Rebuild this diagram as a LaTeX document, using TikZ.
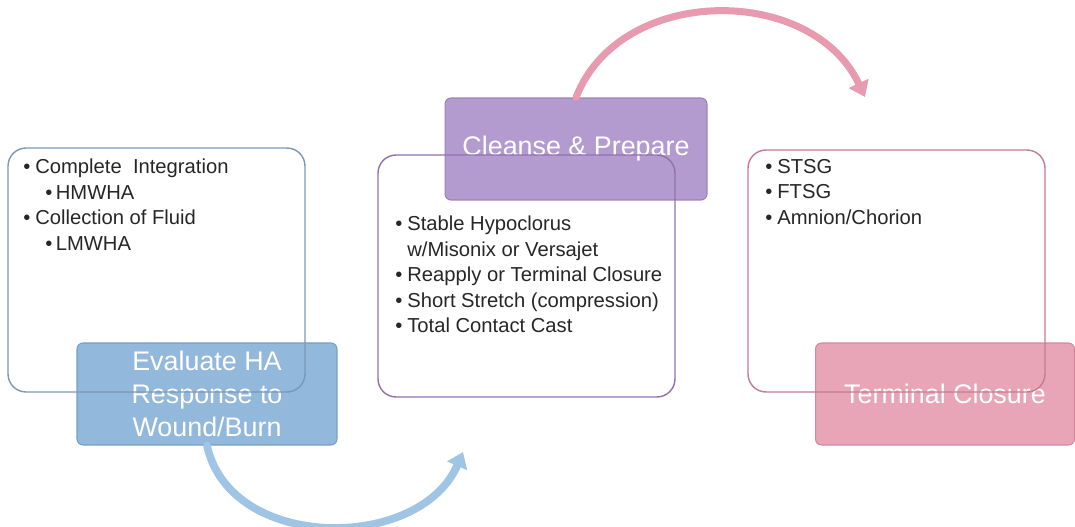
\documentclass[tikz,border=0pt]{standalone}
\usepackage{fontspec}
\setmainfont{Liberation Sans}
\usetikzlibrary{arrows.meta, positioning, calc}
\definecolor{evalfill}{RGB}{146,184,220}
\definecolor{evaledge}{RGB}{118,158,198}
\definecolor{evalline}{RGB}{124,152,182}
\definecolor{cleanfill}{RGB}{180,155,207}
\definecolor{cleanedge}{RGB}{156,128,188}
\definecolor{cleanline}{RGB}{146,112,174}
\definecolor{closefill}{RGB}{232,165,184}
\definecolor{closeedge}{RGB}{212,136,158}
\definecolor{closeline}{RGB}{196,122,146}
\definecolor{bluearrow}{RGB}{160,196,228}
\definecolor{pinkarrow}{RGB}{232,154,176}
\definecolor{bodytext}{RGB}{38,38,38}
\newcommand{\bul}[1]{\makebox[0.24cm][l]{\textbullet}#1}
\newcommand{\subbul}[1]{\hspace*{0.44cm}\makebox[0.21cm][l]{\textbullet}#1}

\begin{document}
\begin{tikzpicture}[
        x=0.02cm, y=-0.02cm,
        panel/.style={draw, line width=0.8pt, rounded corners=0.36cm, minimum width=5.94cm, inner sep=0},
        tag/.style={draw, line width=0.6pt, rounded corners=0.12cm, text=white, align=center, inner sep=0,
            font=\fontsize{15.3pt}{18.7pt}\selectfont},
        txt/.style={align=left, inner sep=0, text=bodytext, anchor=north west,
            font=\fontsize{11.5pt}{14.5pt}\selectfont},
        flow/.style={line cap=round, -{Triangle[width=0.42cm, length=0.3cm]}}
    ]
        \useasboundingbox (0,0) rectangle (1075,527);

        % coloured stage labels
        \node[tag, fill=evalfill, draw=evaledge, minimum width=5.2cm, minimum height=2.04cm] (evallbl) at (207,394)
            {Evaluate HA\\Response to\\Wound/Burn};
        \node[tag, fill=cleanfill, draw=cleanedge, minimum width=5.24cm, minimum height=2.04cm] (cleanselbl) at (576,149)
            {Cleanse \& Prepare};
        \node[tag, fill=closefill, draw=closeedge, minimum width=5.18cm, minimum height=2.04cm] (closelbl) at (945,394)
            {Terminal Closure};

        % outlined text panels
        \node[panel, draw=evalline, minimum height=4.88cm] (evalbox) at (156.5,270) {};
        \node[panel, draw=cleanline, minimum height=4.84cm] (cleansebox) at (526.5,276) {};
        \node[panel, draw=closeline, minimum height=4.84cm] (closebox) at (896.5,271) {};

        \node[txt] (evaltxt) at (23,159)
            {\bul{Complete\ \ Integration}\\\subbul{HMWHA}\\\bul{Collection of Fluid}\\\subbul{LMWHA}};
        \node[txt] (cleansetxt) at (395,216)
            {\bul{Stable Hypoclorus}\\\hspace*{0.24cm}w/Misonix or Versajet\\\bul{Reapply or Terminal Closure}\\
             \bul{Short Stretch (compression)}\\\bul{Total Contact Cast}};
        \node[txt] (closetxt) at (765,159)
            {\bul{STSG}\\\bul{FTSG}\\\bul{Amnion/Chorion}};

        % curved arrows
        \coordinate (bluetip) at (463,452);
        \coordinate (pinktip) at (865,97);
        \draw[flow, color=bluearrow, line width=4.4pt] (evallbl.south) .. controls (230,552) and (420,552) .. (bluetip);
        \draw[flow, color=pinkarrow, line width=4pt] (cleanselbl.north) .. controls (620,-16) and (812,-16) .. (pinktip);
    \end{tikzpicture}
\end{document}
